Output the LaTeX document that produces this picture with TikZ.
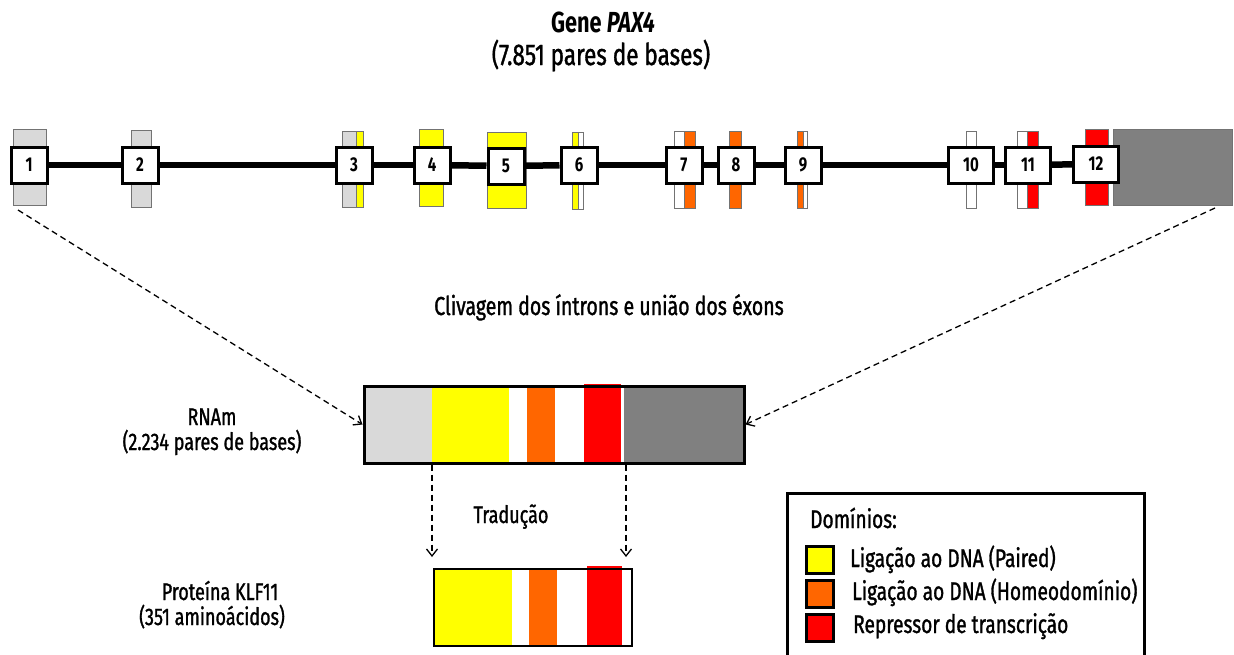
\documentclass[tikz,border=0pt]{standalone}
\usepackage{fontspec}
\setmainfont{Fira Sans}[FakeStretch=0.75,UprightFeatures={FakeBold=1.2}]
\usetikzlibrary{arrows.meta}
\definecolor{exgray}{HTML}{D9D9D9}
\definecolor{utrgray}{HTML}{808080}
\definecolor{paired}{HTML}{FFFF00}
\definecolor{homeo}{HTML}{FF6600}
\definecolor{repress}{HTML}{FF0000}
\begin{document}
\begin{tikzpicture}[x=1pt,y=-1pt,>={Straight Barb[length=7pt,width=11pt]}]
        \tikzstyle{exon}=[draw=black!55,line width=0.8pt]
        \tikzstyle{exonbox}=[rectangle,draw=black,line width=3pt,fill=white,minimum width=36pt,minimum height=36pt,inner sep=0pt,font=\fontsize{20}{21}\selectfont\bfseries]
        \tikzstyle{widebox}=[exonbox,minimum width=45pt]
        \tikzstyle{txt}=[anchor=base,inner sep=0pt,font=\fontsize{24}{26}\selectfont]
        \tikzstyle{bigtxt}=[anchor=base,inner sep=0pt,font=\fontsize{30}{32}\selectfont]
        \tikzstyle{legtxt}=[anchor=base west,inner sep=0pt,font=\fontsize{25.5}{27}\selectfont]
        \tikzstyle{swatch}=[rectangle,draw=black,line width=3pt,minimum width=27pt,minimum height=27pt,inner sep=0pt]
        \tikzstyle{link}=[draw,dashed,dash pattern=on 6pt off 4pt,line width=1.3pt,->]
        \useasboundingbox (0,0) rectangle (1234,654);
        % exons of the gene
        \path[exon,fill=exgray] (13,129) rectangle (46,205);
        \path[exon,fill=exgray] (131,130) rectangle (151,207);
        \path[exon,fill=exgray] (342,131) rectangle (356,207);
        \path[exon,fill=paired] (356,131) rectangle (363,207);
        \path[exon,fill=paired] (419,129) rectangle (443,206);
        \path[exon,fill=paired] (487,132) rectangle (526,208);
        \path[exon,fill=paired] (572,132) rectangle (578,209);
        \path[exon,fill=white] (578,132) rectangle (583,209);
        \path[exon,fill=white] (674,131) rectangle (684,208);
        \path[exon,fill=homeo] (684,131) rectangle (695,208);
        \path[exon,fill=homeo] (729,131) rectangle (741,208);
        \path[exon,fill=homeo] (797,131) rectangle (803,208);
        \path[exon,fill=white] (803,131) rectangle (807,208);
        \path[exon,fill=white] (966,131) rectangle (976,208);
        \path[exon,fill=white] (1017,131) rectangle (1027,208);
        \path[exon,fill=repress] (1027,131) rectangle (1038,208);
        \path[exon,fill=repress] (1085,129) rectangle (1108,205);
        \path[exon,fill=utrgray] (1113,129) rectangle (1232,205);
        % exon numbers
        \node [exonbox] (e1) at (29,165) {1};
        \node [exonbox] (e2) at (140,165) {2};
        \node [exonbox] (e3) at (354,165) {3};
        \node [exonbox] (e4) at (432,165) {4};
        \node [exonbox] (e5) at (506,166) {5};
        \node [exonbox] (e6) at (579,165) {6};
        \node [exonbox] (e7) at (684,165) {7};
        \node [exonbox] (e8) at (736,165) {8};
        \node [exonbox] (e9) at (803,165) {9};
        \node [widebox] (e10) at (971,165) {10};
        \node [widebox] (e11) at (1028,165) {11};
        \node [widebox] (e12) at (1096,164) {12};
        \foreach \a/\b in {e1/e2,e2/e3,e3/e4,e4/e5,e5/e6,e6/e7,e7/e8,e8/e9,e9/e10,e10/e11,e11/e12}
          \draw [line width=6.5pt] (\a) -- (\b);
        % titles
        \node [bigtxt,font=\fontsize{29}{31}\selectfont\bfseries] (gene) at (603,32) {Gene \textit{PAX4}};
        \node [bigtxt] (genesize) at (601,65) {(7.851 pares de bases)};
        \node [txt,font=\fontsize{26}{28}\selectfont] (splice) at (609,315) {Clivagem dos íntrons e união dos éxons};
        % mRNA
        \path[fill=exgray] (364,386) rectangle (432,463);
        \path[fill=paired] (432,386) rectangle (509,463);
        \path[fill=homeo] (527,386) rectangle (555,463);
        \path[fill=repress] (584,384) rectangle (621,463);
        \path[fill=utrgray] (624,386) rectangle (744,463);
        \node [rectangle,draw,line width=3pt,minimum width=380pt,minimum height=77pt] (rna) at (554,424.5) {};
        \node [txt] (rnaname) at (212,425) {RNAm};
        \node [txt] (rnasize) at (212,450) {(2.234 pares de bases)};
        % protein
        \path[fill=paired] (434,569) rectangle (512,646);
        \path[fill=homeo] (529,569) rectangle (557,646);
        \path[fill=repress] (587,566) rectangle (622,646);
        \node [rectangle,draw,line width=2.5pt,minimum width=198pt,minimum height=77pt] (prot) at (533,607.5) {};
        \node [txt] (protname) at (220,600) {Proteína KLF11};
        \node [txt] (protsize) at (212,625) {(351 aminoácidos)};
        \node [txt] (transl) at (511,523) {Tradução};
        % connectors
        \coordinate (c1) at (18,210);
        \coordinate (c12) at (1215,208);
        \coordinate (t1) at (432,557);
        \coordinate (t2) at (626,557);
        \path[link] (c1) -- (rna.west);
        \path[link] (c12) -- (rna.east);
        \path[link] (rna.south -| t1) -- (t1);
        \path[link] (rna.south -| t2) -- (t2);
        % legend
        \draw [line width=3pt] (787,660) |- (1144,493) -- (1144,660);
        \node [legtxt] (legtitle) at (810,528) {Domínios:};
        \node [swatch,fill=paired] (s1) at (819.5,559.5) {};
        \node [swatch,fill=homeo] (s2) at (819.5,593.5) {};
        \node [swatch,fill=repress] (s3) at (819.5,627.5) {};
        \node [legtxt] (l1) at (850,567) {Ligação ao DNA (Paired)};
        \node [legtxt] (l2) at (852,600) {Ligação ao DNA (Homeodomínio)};
        \node [legtxt] (l3) at (853,633) {Repressor de transcrição};
\end{tikzpicture}
\end{document}
